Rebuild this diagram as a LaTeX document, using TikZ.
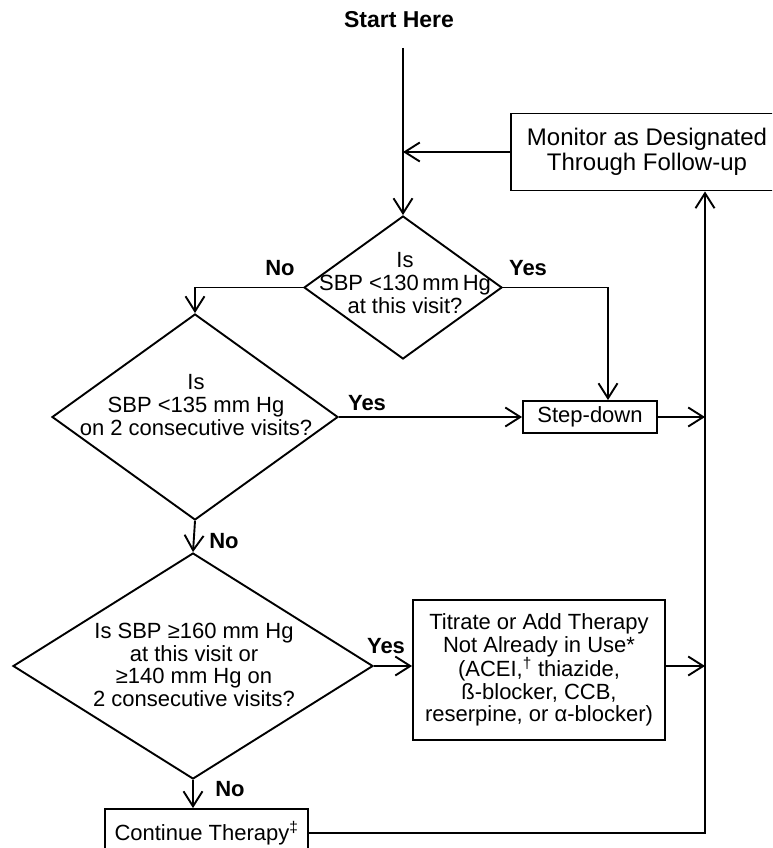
\documentclass[tikz,border=0pt]{standalone}
\usepackage{fontspec}
\setmainfont{Liberation Sans}
\usetikzlibrary{shapes.geometric,arrows.meta}
\newcommand{\mainfnt}{\fontsize{22}{22.7}\selectfont}
\newcommand{\monfnt}{\fontsize{24}{25}\selectfont}
\newcommand{\labfnt}{\fontsize{22}{23}\selectfont\bfseries}
\newcommand{\startfnt}{\fontsize{23}{24}\selectfont\bfseries}
\begin{document}
\begin{tikzpicture}[x=1pt,y=-1pt,
  ln/.style={line width=1.9pt},
  arr/.style={ln,-{Straight Barb[length=15pt,width=19pt,line width=1.9pt]}},
  box/.style={draw,ln,inner sep=0pt,align=center,font=\mainfnt},
  dia/.style={draw,ln,diamond,inner sep=0pt},
  txt/.style={align=center,font=\mainfnt,inner sep=0pt},
  lab/.style={font=\labfnt,inner sep=0pt}]
\useasboundingbox (0,0) rectangle (772,848);
\clip (0,0) rectangle (772,848);
\fill[white] (0,0) rectangle (772,848);

\node[lab,font=\startfnt] (start) at (399,20) {Start Here};
\coordinate (s0) at (403,48);
\node[box,minimum width=272pt,minimum height=77pt,font=\monfnt] (mon) at (647,152) {Monitor as Designated\\Through Follow-up};

\node[dia,minimum width=198pt,minimum height=143pt] (d1) at (403,287.5) {};
\node[txt] (d1t) at (405,283) {Is\\SBP <130\,mm\,Hg\\at this visit?};

\node[dia,minimum width=286pt,minimum height=206pt] (d2) at (195,417) {};
\node[txt] (d2t) at (196,405) {Is\\SBP <135 mm Hg\\on 2 consecutive visits?};

\node[box,minimum width=134pt,minimum height=32pt] (step) at (590,417) {Step-down};

\node[dia,minimum width=360pt,minimum height=226pt] (d3) at (193,666) {};
\node[txt] (d3t) at (194,665) {Is SBP ≥160 mm Hg\\at this visit or\\≥140 mm Hg on\\2 consecutive visits?};

\node[box,minimum width=252pt,minimum height=140pt] (tit) at (539,670) {Titrate or Add Therapy\\Not Already in Use*\\(ACEI,\textsuperscript{†} thiazide,\\ß-blocker, CCB,\\reserpine, or α-blocker)};

\node[box,minimum width=203pt,minimum height=48pt] (cont) at (206.5,833) {Continue Therapy\textsuperscript{‡}};
\coordinate (vb) at (705,833);

\draw[arr] (s0) -- (d1.north);
\draw[arr] (mon.west) -- (mon.west -| s0);
\draw[arr] (d1.west) -| (d2.north);
\draw[arr] (d1.east) -| ([xshift=18pt]step.north);
\draw[arr] (d2.east) -- (step.west);
\draw[arr] (step.east) -- (step.east -| vb);
\draw[arr] (d2.south) -- (d3.north);
\draw[arr] (d3.east) -- (d3.east -| tit.west);
\draw[arr] (tit.east |- d3.east) -- (d3.east -| vb);
\draw[arr] (d3.south) -- (d3.south |- cont.north);
\draw[arr] (cont.east) -- (vb) -- (vb |- mon.south);

\node[lab] (no1) at (280,268) {No};
\node[lab] (yes1) at (528,268) {Yes};
\node[lab] (yes2) at (367,403) {Yes};
\node[lab] (no2) at (224,541) {No};
\node[lab] (yes3) at (386,646) {Yes};
\node[lab] (no3) at (230,789) {No};
\end{tikzpicture}
\end{document}
